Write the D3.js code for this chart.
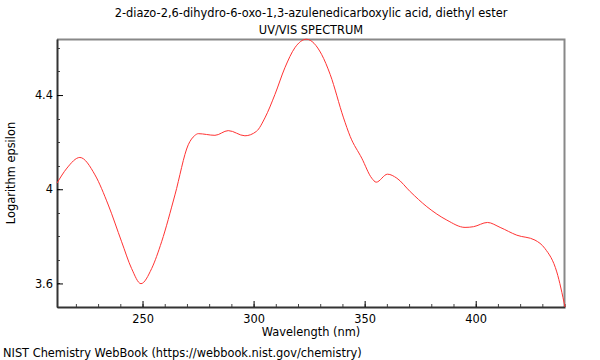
<!DOCTYPE html>
<html>
<head>
<meta charset="utf-8">
<script src="https://cdn.jsdelivr.net/npm/d3@7"></script>
<style>
  body { margin: 0; background: #fff; }
  text { font-family: "DejaVu Sans", sans-serif; fill: #000; }
</style>
</head>
<body>
<div id="chart"></div>
<script>
// spectrum values
const wavelengths = [211.5, 216, 221.8, 228.6, 234.6, 240.6, 245.1, 249.3, 254.1, 258.6, 264.6, 270.6, 273.5, 275.1,
  282.6, 288.6, 296.1, 301.3, 305.1, 309.6, 314.1, 318.6, 323.8, 330.6, 334.5, 340.5, 343.5, 348.7, 353.2,
  355.2, 360.3, 364.5, 370.5, 378, 387, 395.2, 399, 405.3, 411, 418.5, 426.7, 431.2, 436.5, 440.2];
const logEps = [4.026, 4.09, 4.135, 4.061, 3.933, 3.777, 3.663, 3.599, 3.663, 3.777, 3.976, 4.189, 4.228, 4.236,
  4.229, 4.249, 4.227, 4.246, 4.303, 4.402, 4.516, 4.601, 4.637, 4.573, 4.487, 4.303, 4.224, 4.132, 4.047,
  4.03, 4.064, 4.047, 3.99, 3.926, 3.869, 3.838, 3.841, 3.859, 3.838, 3.805, 3.784, 3.748, 3.649, 3.5];
const xMajor = [250, 300, 350, 400];
const yMajor = [3.6, 4, 4.4];

const W = 600, H = 360;
const margin = { top: 39, right: 35, bottom: 53, left: 57 },
    width = W - margin.left - margin.right,
    height = H - margin.top - margin.bottom;
const fs = 11.4;

const svg = d3.select("#chart").append("svg")
    .attr("width", W)
    .attr("height", H);

const x = d3.scaleLinear().domain([211.5, 440.2]).range([0, width]);
const y = d3.scaleLinear().domain([3.5, 4.638]).range([height, 0]);

const g = svg.append("g")
    .attr("transform", `translate(${margin.left},${margin.top})`);

// frame (top and right grey)
g.append("path")
    .attr("d", `M0,0.5H${width - 0.5}V${height}`)
    .attr("fill", "none")
    .attr("stroke", "#888")
    .attr("stroke-width", 2);

// minor ticks
const xMinor = d3.range(220, 441, 10);
const yMinor = d3.range(3.5, 4.65, 0.1);

g.selectAll(".xminor").data(xMinor).enter().append("line")
    .attr("x1", d => x(d) + 0.5).attr("x2", d => x(d) + 0.5)
    .attr("y1", height).attr("y2", height - 3)
    .attr("stroke", "#444");
g.selectAll(".yminor").data(yMinor).enter().append("line")
    .attr("x1", 0).attr("x2", 3)
    .attr("y1", d => Math.round(y(d)) + 0.5).attr("y2", d => Math.round(y(d)) + 0.5)
    .attr("stroke", "#444");

// x axis
const xAxis = g.append("g")
    .attr("transform", `translate(0,${height})`)
    .call(d3.axisBottom(x).tickValues(xMajor).tickSizeInner(-6).tickSizeOuter(0).tickPadding(8).tickFormat(d3.format("d")));
xAxis.select(".domain").attr("stroke", "#333").attr("stroke-width", 2);
xAxis.selectAll("text").attr("font-size", fs);

// y axis
const yAxis = g.append("g")
    .call(d3.axisLeft(y).tickValues(yMajor).tickSizeInner(-6).tickSizeOuter(0).tickPadding(4).tickFormat(d => d));
yAxis.select(".domain").attr("stroke", "#333").attr("stroke-width", 2);
yAxis.selectAll("text").attr("font-size", fs);

// spectrum
const data = wavelengths.map((w, i) => ({ w: w, v: logEps[i] }));
g.append("path")
    .datum(data)
    .attr("fill", "none")
    .attr("stroke", "#ff3333")
    .attr("stroke-width", 1)
    .attr("d", d3.line().x(d => x(d.w)).y(d => y(d.v)).curve(d3.curveMonotoneX));

// titles and labels
const cx = margin.left + width / 2;
svg.append("text").attr("x", cx).attr("y", 17).attr("text-anchor", "middle").attr("font-size", fs)
    .text("2-diazo-2,6-dihydro-6-oxo-1,3-azulenedicarboxylic acid, diethyl ester");
svg.append("text").attr("x", cx).attr("y", 34).attr("text-anchor", "middle").attr("font-size", fs)
    .text("UV/VIS SPECTRUM");
svg.append("text").attr("x", cx).attr("y", 336).attr("text-anchor", "middle").attr("font-size", fs)
    .text("Wavelength (nm)");
svg.append("text")
    .attr("transform", `translate(15,${margin.top + height / 2}) rotate(-90)`)
    .attr("text-anchor", "middle").attr("font-size", fs)
    .text("Logarithm epsilon");
svg.append("text").attr("x", 3).attr("y", 357).attr("font-size", fs)
    .text("NIST Chemistry WebBook (https://webbook.nist.gov/chemistry)");
</script>
</body>
</html>
